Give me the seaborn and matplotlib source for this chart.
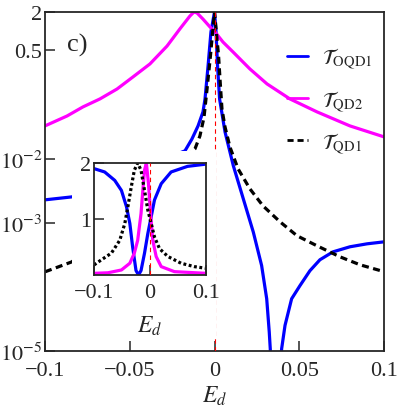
import numpy as np
import pandas as pd
import seaborn as sns
import matplotlib.pyplot as plt
from matplotlib.patches import Rectangle

# main panel: transmissions vs E_d (log scale)
ed_oqd1 = [-0.1, -0.0841, -0.0174, -0.0133, -0.0097, -0.0068, -0.0056, -0.0038, -0.0021, 0.0,
           0.0009, 0.0018, 0.0030, 0.0062, 0.0111, 0.0170, 0.0229, 0.0278, 0.0308, 0.0323,
           0.0329, 0.0362, 0.0396, 0.0416, 0.0455, 0.0504, 0.0563, 0.0622, 0.0699, 0.0799,
           0.0900, 0.1]
t_oqd1 = [2.31e-3, 2.57e-3, 1.35e-2, 2.07e-2, 3.31e-2, 5.47e-2, 8.74e-2, 0.286, 0.974, 2.0,
          0.974, 0.286, 8.74e-2, 2.67e-2, 7.9e-3, 2.39e-3, 7.22e-4, 2.17e-4, 6.55e-5, 1.98e-5,
          1.08e-5, 1e-7, 1.08e-5, 2.51e-5, 6.55e-5, 1.05e-4, 1.8e-4, 2.67e-4, 3.55e-4, 4.26e-4,
          4.74e-4, 5.09e-4]

ed_qd2 = [-0.1, -0.087, -0.0776, -0.0676, -0.0575, -0.0481, -0.0381, -0.028, -0.0204, -0.0145,
          -0.0121, -0.0103, -0.0068, -0.0027, 0.0003, 0.005, 0.0109, 0.0209, 0.031, 0.0445,
          0.0605, 0.0799, 0.1]
t_qd2 = [0.0331, 0.0473, 0.0656, 0.0874, 0.125, 0.193, 0.308, 0.587, 1.09, 1.73,
         2.0, 1.93, 1.55, 1.17, 0.974, 0.678, 0.475, 0.257, 0.150, 0.0874,
         0.0548, 0.0331, 0.0223]

ed_qd1 = [-0.1, -0.0841, -0.0115, -0.0086, -0.0062, -0.0044, -0.0024, 0.0, 0.0024, 0.0035,
          0.0044, 0.0062, 0.0091, 0.0139, 0.0209, 0.0286, 0.0386, 0.0487, 0.0605, 0.074,
          0.0858, 0.1]
t_qd1 = [1.73e-4, 2.48e-4, 0.0145, 0.0231, 0.045, 0.125, 0.41, 2.0, 0.41, 0.14,
         0.061, 0.0319, 0.0155, 7.05e-3, 3.43e-3, 1.86e-3, 1.05e-3, 6.33e-4, 4.41e-4, 2.97e-4,
         2.23e-4, 1.74e-4]

# inset: linear scale
in_ed_oqd1 = [-0.1, -0.081, -0.063, -0.051, -0.042, -0.036, -0.031, -0.025, -0.0205, -0.016,
              -0.0098, -0.0039, 0.0021, 0.008, 0.020, 0.0377, 0.067, 0.1]
in_t_oqd1 = [1.90, 1.84, 1.69, 1.51, 1.22, 0.92, 0.50, 0.08, 0.0, 0.08,
             0.39, 0.74, 1.04, 1.34, 1.63, 1.84, 1.94, 1.98]

in_ed_qd2 = [-0.1, -0.075, -0.051, -0.036, -0.028, -0.022, -0.016, -0.0128, -0.0098, -0.0065,
             -0.0027, 0.0009, 0.005, 0.011, 0.020, 0.0436, 0.1]
in_t_qd2 = [0.03, 0.04, 0.09, 0.21, 0.39, 0.62, 1.10, 1.51, 1.87, 2.0,
            1.63, 1.10, 0.62, 0.33, 0.15, 0.06, 0.03]

in_ed_qd1 = [-0.1, -0.087, -0.069, -0.054, -0.045, -0.0395, -0.0335, -0.028, -0.022, -0.016,
             -0.0098, -0.0039, 0.0021, 0.008, 0.017, 0.032, 0.0555, 0.079, 0.1]
in_t_qd1 = [0.18, 0.27, 0.39, 0.62, 0.92, 1.22, 1.57, 1.87, 2.0, 1.87,
            1.51, 1.16, 0.92, 0.68, 0.47, 0.33, 0.21, 0.15, 0.12]

labels = [r'$\mathcal{T}_{\rm OQD1}$', r'$\mathcal{T}_{\rm QD2}$', r'$\mathcal{T}_{\rm QD1}$']
colors = ['#0000ff', '#ff00ff', 'black']

main_xticks = [-0.1, -0.05, 0, 0.05, 0.1]
main_xlabels = ['\u22120.1', '\u22120.05', '0', '0.05', '0.1']
main_yticks = [1e-5, 1e-3, 1e-2, 0.5, 2]
main_ylabels = [r'$10^{-5}$', r'$10^{-3}$', r'$10^{-2}$', '0.5', '2']
inset_xticks = [-0.1, 0, 0.1]
inset_xlabels = ['\u22120.1', '0', '0.1']

sns.set_style("ticks")
plt.rcParams['font.family'] = ['Liberation Serif', 'DejaVu Serif']
plt.rcParams['mathtext.fontset'] = 'stix'
plt.rcParams['xtick.direction'] = 'in'
plt.rcParams['ytick.direction'] = 'in'

fig = plt.figure(figsize=(3.99, 4.10), dpi=100)
ax = fig.add_axes([0.1128, 0.1415, 0.8496, 0.8268])

lw = 2.3
sns.lineplot(x=ed_oqd1, y=t_oqd1, ax=ax, color=colors[0], lw=lw, label=labels[0], sort=False, estimator=None)
sns.lineplot(x=ed_qd2, y=t_qd2, ax=ax, color=colors[1], lw=lw, label=labels[1], sort=False, estimator=None)
sns.lineplot(x=ed_qd1, y=t_qd1, ax=ax, color=colors[2], lw=lw, label=labels[2], sort=False, estimator=None)
ax.lines[-1].set_dashes((2.2, 1.4))
ax.axvline(0, color='red', lw=0.8, dashes=(4, 3), zorder=4)

ax.set_yscale('log')
ax.set_xlim(-0.1, 0.1)
ax.set_ylim(1e-5, 2)
ax.set_xticks(main_xticks, main_xlabels)
ax.set_yticks(main_yticks, main_ylabels)
ax.minorticks_off()
ax.tick_params(labelsize=16, length=7, width=1.1, pad=7)
ax.tick_params(axis='y', pad=2)
ax.set_xlabel(r'$E_d$', fontsize=17, labelpad=3)
for s in ax.spines.values():
    s.set_linewidth(1.3)

ax.text(0.065, 0.905, 'c)', transform=ax.transAxes, fontsize=19, ha='left', va='center')

leg = ax.legend(loc='upper left', bbox_to_anchor=(0.714, 0.90), frameon=False, fontsize=15,
                handlelength=1.0, handletextpad=0.7, labelspacing=0.85, borderpad=0,
                borderaxespad=0)
for h in leg.get_lines():
    h.set_linewidth(2.0)

# white box behind the inset so it hides the main curves
ax.add_patch(Rectangle((0.1805, 0.1707), 0.3609, 0.4586, transform=fig.transFigure,
                       facecolor='white', edgecolor='none', zorder=5, clip_on=False))

# inset
axi = fig.add_axes([0.2356, 0.3268, 0.2807, 0.2732])
sns.lineplot(x=in_ed_oqd1, y=in_t_oqd1, ax=axi, color=colors[0], lw=lw, sort=False, estimator=None)
sns.lineplot(x=in_ed_qd2, y=in_t_qd2, ax=axi, color=colors[1], lw=lw, sort=False, estimator=None)
sns.lineplot(x=in_ed_qd1, y=in_t_qd1, ax=axi, color=colors[2], lw=lw, sort=False, estimator=None)
axi.lines[-1].set_dashes((0.9, 0.8))
axi.axvline(0, color='red', lw=0.8, dashes=(4, 3), zorder=4)
axi.set_xlim(-0.1, 0.1)
axi.set_ylim(0, 2)
axi.set_xticks(inset_xticks, inset_xlabels)
axi.set_yticks([1, 2], ['1', '2'])
axi.tick_params(labelsize=16, length=7, width=1.1, pad=6)
axi.tick_params(axis='y', pad=2)
axi.set_xlabel(r'$E_d$', fontsize=17, labelpad=8)
for s in axi.spines.values():
    s.set_linewidth(1.3)

fig.savefig('out.png', dpi=100)
